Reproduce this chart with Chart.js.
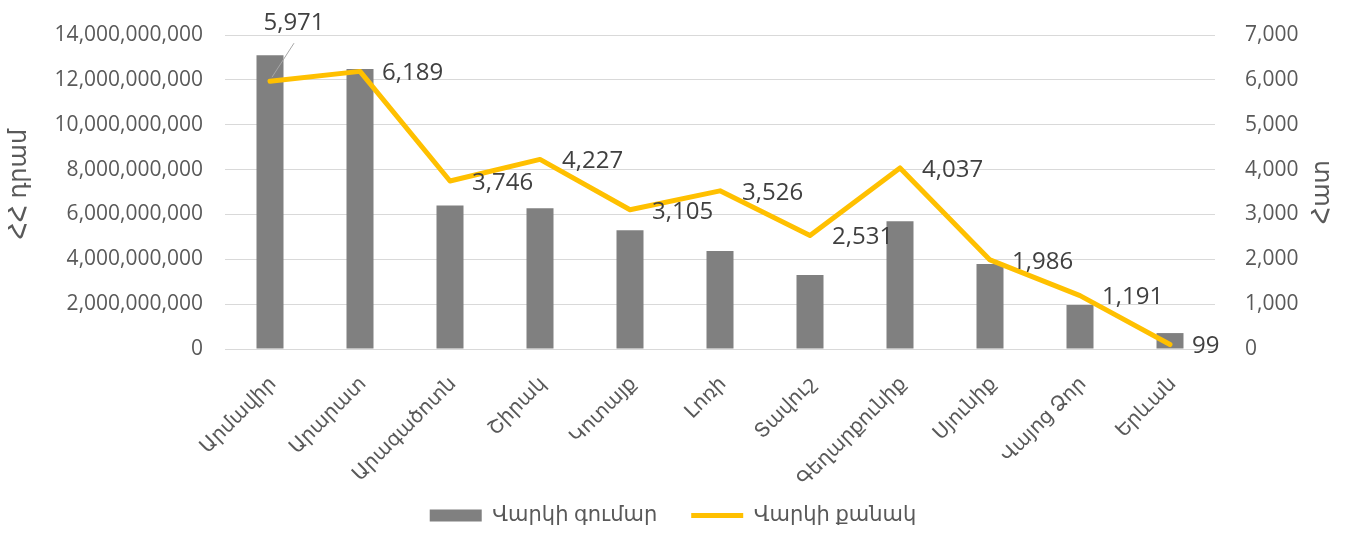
<!DOCTYPE html>
<html>
<head>
<meta charset="utf-8">
<script src="https://cdn.jsdelivr.net/npm/chart.js@4/dist/chart.umd.min.js"></script>
<style>
  html, body { margin: 0; padding: 0; background: #fff; }
  #wrap { width: 1346px; height: 533px; }
</style>
</head>
<body>
<div id="wrap"><canvas id="loan-chart"></canvas></div>
<script>
// Marzer
const regions = ['Արմավիր', 'Արարատ', 'Արագածոտն', 'Շիրակ', 'Կոտայք', 'Լոռի', 'Տավուշ', 'Գեղարքունիք', 'Սյունիք', 'Վայոց Ձոր', 'Երևան'];
// Varki gumar (HH dram)
const loanAmount = [13100000000, 12480000000, 6400000000, 6280000000, 5300000000, 4370000000, 3300000000, 5700000000, 3790000000, 1960000000, 710000000];
// Varki qanak (hat)
const loanCount = [5971, 6189, 3746, 4227, 3105, 3526, 2531, 4037, 1986, 1191, 99];

const amountTicks = [0, 2000000000, 4000000000, 6000000000, 8000000000, 10000000000, 12000000000, 14000000000];
const countTicks = [0, 1000, 2000, 3000, 4000, 5000, 6000, 7000];

const FONT = "'Open Sans', 'DejaVu Sans', sans-serif";
const TEXT = '#595959';

const fmt = v => Number(v).toLocaleString('en-US');

// pitakner tveri hamar
const pointLabels = {
    id: 'pointLabels',
    afterDatasetsDraw(chart) {
        const ctx = chart.ctx;
        const meta = chart.getDatasetMeta(1);
        ctx.save();
        ctx.font = '24px ' + FONT;
        ctx.fillStyle = '#404040';
        ctx.textBaseline = 'middle';
        meta.data.forEach((pt, i) => {
            const txt = fmt(loanCount[i]);
            if (i === 0) {
                ctx.strokeStyle = '#a6a6a6';
                ctx.lineWidth = 1;
                ctx.beginPath();
                ctx.moveTo(pt.x + 2, pt.y - 4);
                ctx.lineTo(pt.x + 24, pt.y - 38);
                ctx.stroke();
                ctx.textAlign = 'center';
                ctx.fillText(txt, pt.x + 24, pt.y - 58);
            } else {
                ctx.textAlign = 'left';
                ctx.fillText(txt, pt.x + 22, pt.y + 2);
            }
        });
        ctx.restore();
    }
};

// legend-@ mi qich nerqev
const legendShift = {
    id: 'legendShift',
    afterLayout(chart) {
        chart.legend.top += 3;
        chart.legend.bottom += 3;
    }
};

// arancqneri vernagrer
const axisTitles = {
    id: 'axisTitles',
    afterDraw(chart) {
        const ctx = chart.ctx;
        const mid = (chart.chartArea.top + chart.chartArea.bottom) / 2;
        ctx.save();
        ctx.font = '24px ' + FONT;
        ctx.fillStyle = TEXT;
        ctx.textAlign = 'center';
        ctx.textBaseline = 'middle';
        ctx.translate(19, mid - 8);
        ctx.rotate(-Math.PI / 2);
        ctx.fillText('ՀՀ դրամ', 0, 0);
        ctx.restore();
        ctx.save();
        ctx.font = '24px ' + FONT;
        ctx.fillStyle = TEXT;
        ctx.textAlign = 'center';
        ctx.textBaseline = 'middle';
        ctx.translate(1322, mid);
        ctx.rotate(-Math.PI / 2);
        ctx.fillText('Հատ', 0, 0);
        ctx.restore();
    }
};

const ctx = document.getElementById('loan-chart').getContext('2d');
const loanChart = new Chart(ctx, {
    data: {
        labels: regions,
        datasets: [{
            type: 'bar',
            label: 'Վարկի գումար',
            data: loanAmount,
            backgroundColor: '#808080',
            borderWidth: 0,
            yAxisID: 'y',
            barPercentage: 0.3,
            categoryPercentage: 1,
            pointStyle: 'rect',
            order: 1
        }, {
            type: 'line',
            label: 'Վարկի քանակ',
            data: loanCount,
            borderColor: '#FFC000',
            backgroundColor: '#FFC000',
            borderWidth: 5,
            borderCapStyle: 'round',
            borderJoinStyle: 'round',
            pointRadius: 0,
            pointStyle: 'line',
            tension: 0,
            yAxisID: 'y1',
            order: 0
        }]
    },
    options: {
        responsive: true,
        maintainAspectRatio: false,
        animation: false,
        layout: { padding: { top: 35, left: 0, right: 0, bottom: 0 } },
        scales: {
            x: {
                grid: { display: false },
                border: { display: false },
                ticks: {
                    color: TEXT,
                    font: { family: FONT, size: 20 },
                    minRotation: 45,
                    maxRotation: 45,
                    padding: 15,
                    labelOffset: 3
                },
                afterFit(scale) { scale.height = 140; }
            },
            y: {
                position: 'left',
                min: 0,
                max: 14000000000,
                grid: { color: '#d9d9d9', lineWidth: 1, drawTicks: false },
                border: { display: false },
                afterBuildTicks(scale) { scale.ticks = amountTicks.map(v => ({ value: v })); },
                ticks: {
                    color: TEXT,
                    font: { family: FONT, size: 21 },
                    padding: 22,
                    callback: v => fmt(v)
                },
                afterFit(scale) { scale.width = 225; }
            },
            y1: {
                position: 'right',
                min: 0,
                max: 7000,
                grid: { display: false },
                border: { display: false },
                afterBuildTicks(scale) { scale.ticks = countTicks.map(v => ({ value: v })); },
                ticks: {
                    color: TEXT,
                    font: { family: FONT, size: 21 },
                    padding: 22,
                    callback: v => fmt(v)
                },
                afterFit(scale) { scale.width = 131; }
            }
        },
        plugins: {
            legend: {
                position: 'bottom',
                labels: {
                    color: TEXT,
                    font: { family: FONT, size: 21 },
                    usePointStyle: true,
                    pointStyleWidth: 52,
                    boxHeight: 12,
                    padding: 13,
                    generateLabels(chart) {
                        const items = Chart.defaults.plugins.legend.labels.generateLabels(chart);
                        // avelacnum enq taracutyun arajin tarri hetevic
                        items.forEach(it => { if (it.datasetIndex === 0) it.text += '\u2003'; });
                        return items;
                    },
                    sort: (a, b) => a.datasetIndex - b.datasetIndex
                }
            },
            tooltip: { enabled: false }
        }
    },
    plugins: [pointLabels, legendShift, axisTitles]
});
</script>
</body>
</html>
